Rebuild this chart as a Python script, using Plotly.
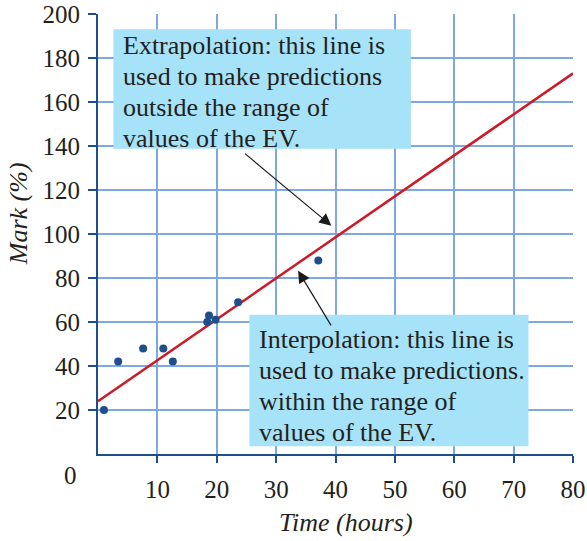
import plotly.graph_objects as go

# dados
time_h = [1.0, 3.4, 7.6, 11.0, 12.6, 18.4, 18.7, 19.8, 23.6, 37.1]
mark_pct = [20, 42, 48, 48, 42, 60, 63, 61, 69, 88]

# reta de regressão (extremos)
line_x = [0, 80]
line_y = [24, 173]

x_ticks = [10, 20, 30, 40, 50, 60, 70, 80]
y_ticks = [20, 40, 60, 80, 100, 120, 140, 160, 180, 200]

extra_lines = ["Extrapolation: this line is", "used to make predictions",
               "outside the range of", "values of the EV."]
inter_lines = ["Interpolation: this line is", "used to make predictions.",
               "within the range of", "values of the EV."]

serif = "Liberation Serif"
txt = "#231f20"
axis_blue = "#1f4e8c"
grid_blue = "#7ea8e0"
box_fill = "#a6e2f8"

fig = go.Figure()

fig.add_trace(go.Scatter(x=line_x, y=line_y, mode="lines",
                         line=dict(color="#cc1a28", width=2.5), hoverinfo="skip"))
fig.add_trace(go.Scatter(x=time_h, y=mark_pct, mode="markers",
                         marker=dict(color=axis_blue, size=8), hoverinfo="skip"))

# caixas de texto
fig.add_shape(type="rect", xref="x", yref="y", x0=2.6, x1=52.7, y0=138.8, y1=193.1,
              fillcolor=box_fill, line_width=0, layer="above")
fig.add_shape(type="rect", xref="x", yref="y", x0=25.5, x1=72.5, y0=3.5, y1=63.3,
              fillcolor=box_fill, line_width=0, layer="above")

# uma anotação por linha pra controlar o espaçamento
for i, s in enumerate(extra_lines):
    fig.add_annotation(x=3.8, y=185.5 - i * 14.0, xref="x", yref="y",
                       xanchor="left", yanchor="middle", showarrow=False, text=s,
                       font=dict(family=serif, size=26, color=txt))
for i, s in enumerate(inter_lines):
    fig.add_annotation(x=26.8, y=52.0 - i * 14.0, xref="x", yref="y",
                       xanchor="left", yanchor="middle", showarrow=False, text=s,
                       font=dict(family=serif, size=26, color=txt))

# setas
fig.add_annotation(x=39.3, y=103.8, ax=24.5, ay=137.1, xref="x", yref="y",
                   axref="x", ayref="y", text="", showarrow=True,
                   arrowhead=2, arrowsize=2, arrowwidth=1.2, arrowcolor="#1a1a1a")
fig.add_annotation(x=33.7, y=83.3, ax=39.4, ay=57.8, xref="x", yref="y",
                   axref="x", ayref="y", text="", showarrow=True,
                   arrowhead=2, arrowsize=2, arrowwidth=1.2, arrowcolor="#1a1a1a")

# rótulo da origem
fig.add_annotation(x=0, y=0, xref="x", yref="y", xanchor="right", yanchor="middle",
                   xshift=-19, yshift=-21, showarrow=False, text="0",
                   font=dict(family=serif, size=25, color=txt))

# títulos dos eixos (fora do centro, como no original)
fig.add_annotation(x=0.523, y=0, xref="paper", yref="paper", yshift=-68,
                   xanchor="center", yanchor="middle", showarrow=False,
                   text="<i>Time (hours)</i>",
                   font=dict(family=serif, size=26, color=txt))
fig.add_annotation(x=0, y=0.545, xref="paper", yref="paper", xshift=-80,
                   xanchor="center", yanchor="middle", showarrow=False,
                   textangle=-90, text="<i>Mark (%)</i>",
                   font=dict(family=serif, size=26, color=txt))

fig.update_xaxes(range=[0, 80], tickvals=x_ticks, ticktext=[str(v) for v in x_ticks],
                 showgrid=True, gridcolor=grid_blue, gridwidth=1.5,
                 showline=True, linecolor=axis_blue, linewidth=2,
                 ticks="outside", ticklen=7, tickwidth=1.5, tickcolor=axis_blue,
                 ticklabelstandoff=5, ticklabeloverflow="allow",
                 zeroline=False, automargin=False,
                 tickfont=dict(family=serif, size=25, color=txt))
fig.update_yaxes(range=[0, 200], tickvals=y_ticks,
                 showgrid=True, gridcolor=grid_blue, gridwidth=1.5,
                 showline=True, linecolor=axis_blue, linewidth=2,
                 ticks="outside", ticklen=8, tickwidth=1.5, tickcolor=axis_blue,
                 ticklabelstandoff=3, ticklabeloverflow="allow",
                 zeroline=False, automargin=False,
                 tickfont=dict(family=serif, size=25, color=txt))

fig.update_layout(width=587, height=541, showlegend=False,
                  margin=dict(l=98, r=14, t=14, b=87),
                  plot_bgcolor="white", paper_bgcolor="white")

# tira a margem padrão do body pra figura encostar no canto
fig.write_html("out.html", config={"displayModeBar": False},
               post_script="document.body.style.margin='0';document.body.style.overflow='hidden';")
